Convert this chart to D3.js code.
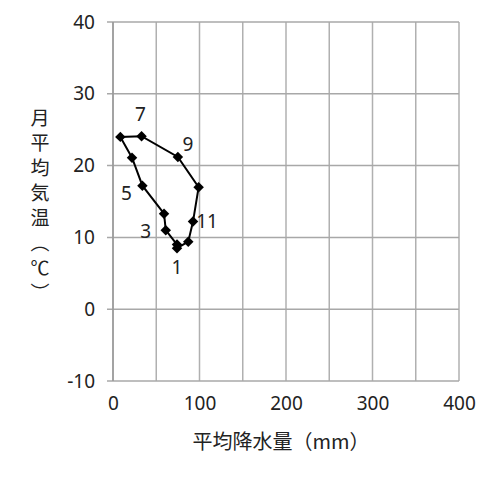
<!DOCTYPE html>
<html>
<head>
<meta charset="utf-8">
<script src="https://cdn.jsdelivr.net/npm/d3@7"></script>
<style>
  body { margin: 0; background: #fff; }
  text { font-family: "Noto Sans CJK JP", "Noto Sans", sans-serif; fill: #222; }
</style>
</head>
<body>
<div id="chart"></div>
<script>
var svgWidth = 500;
var svgHeight = 480;

// monthly data
var months = [1, 2, 3, 4, 5, 6, 7, 8, 9, 10, 11, 12];
var precip = [74, 74, 61, 59, 34, 22, 8.5, 33, 75, 99, 92.5, 87];
var temps = [8.5, 9.0, 11.0, 13.3, 17.2, 21.1, 24.0, 24.1, 21.2, 17.0, 12.2, 9.4];
var labelMonths = [1, 3, 5, 7, 9, 11];

var xTicks = [0, 100, 200, 300, 400];
var yTicks = [-10, 0, 10, 20, 30, 40];
var yTitle = "月平均気温（℃）";
var xTitle = "平均降水量（mm）";

var chartMargin = { top: 22, right: 41, bottom: 99, left: 113 };
var chartWidth = svgWidth - chartMargin.left - chartMargin.right;
var chartHeight = svgHeight - chartMargin.top - chartMargin.bottom;

var svg = d3.select("#chart")
  .append("svg")
  .attr("width", svgWidth)
  .attr("height", svgHeight);

var chartGroup = svg.append("g")
  .attr("transform", `translate(${chartMargin.left}, ${chartMargin.top})`);

var xScale = d3.scaleLinear().domain([0, 400]).range([0, chartWidth]);
var yScale = d3.scaleLinear().domain([-10, 40]).range([chartHeight, 0]);

// vertical grid every 50
chartGroup.append("g")
  .selectAll("line")
  .data(d3.range(0, 401, 50))
  .enter()
  .append("line")
  .attr("x1", d => xScale(d))
  .attr("x2", d => xScale(d))
  .attr("y1", 0)
  .attr("y2", chartHeight)
  .attr("stroke", "#b0b0b0")
  .attr("stroke-width", 1.5);

// horizontal grid, with small tick stub to the left
chartGroup.append("g")
  .selectAll("line")
  .data(yTicks)
  .enter()
  .append("line")
  .attr("x1", -6)
  .attr("x2", chartWidth)
  .attr("y1", d => yScale(d))
  .attr("y2", d => yScale(d))
  .attr("stroke", "#a8a8a8")
  .attr("stroke-width", 1.5);

// left axis line
chartGroup.append("line")
  .attr("x1", 0).attr("x2", 0)
  .attr("y1", 0).attr("y2", chartHeight)
  .attr("stroke", "#999")
  .attr("stroke-width", 1.5);

// tick labels (plain hyphen for -10)
var leftAxis = d3.axisLeft(yScale).tickValues(yTicks).tickSize(0).tickPadding(18)
  .tickFormat(d => String(d));
var yAxisG = chartGroup.append("g").call(leftAxis);
yAxisG.select(".domain").remove();
yAxisG.selectAll("text")
  .attr("font-size", 19)
  .attr("fill", "#222")
  .style("font-family", "'Noto Sans', sans-serif");

var bottomAxis = d3.axisBottom(xScale).tickValues(xTicks).tickSize(0).tickPadding(16);
var xAxisG = chartGroup.append("g")
  .attr("transform", `translate(0, ${chartHeight})`)
  .call(bottomAxis);
xAxisG.select(".domain").remove();
xAxisG.selectAll("text")
  .attr("font-size", 19)
  .attr("fill", "#222")
  .style("font-family", "'Noto Sans', sans-serif");

// data line, closed loop
var pts = months.map((m, i) => ({ month: m, p: precip[i], t: temps[i] }));

var line = d3.line()
  .x(d => xScale(d.p))
  .y(d => yScale(d.t))
  .curve(d3.curveLinearClosed);

chartGroup.append("path")
  .datum(pts)
  .attr("d", line)
  .attr("fill", "none")
  .attr("stroke", "#000")
  .attr("stroke-width", 2);

chartGroup.selectAll(".marker")
  .data(pts)
  .enter()
  .append("path")
  .attr("class", "marker")
  .attr("d", d3.symbol().type(d3.symbolDiamond2).size(70))
  .attr("transform", d => `translate(${xScale(d.p)}, ${yScale(d.t)})`)
  .attr("fill", "#000");

// month labels, placed next to their points
var labelOffset = {
  1: [0, 26],
  3: [-20, 8],
  5: [-16, 14],
  7: [20, -16],
  9: [10, -6],
  11: [14, 6]
};
chartGroup.selectAll(".stateText")
  .data(pts.filter(d => labelMonths.includes(d.month)))
  .enter()
  .append("text")
  .attr("x", d => xScale(d.p) + labelOffset[d.month][0])
  .attr("y", d => yScale(d.t) + labelOffset[d.month][1])
  .attr("text-anchor", "middle")
  .attr("font-size", 19)
  .style("font-family", "'Noto Sans', sans-serif")
  .text(d => d.month);

// axis titles
svg.append("text")
  .attr("x", 281)
  .attr("y", 449)
  .attr("text-anchor", "middle")
  .attr("font-size", 20)
  .text(xTitle);

// vertical y title (vertical writing turns the brackets)
svg.append("text")
  .attr("x", 40)
  .attr("y", 108)
  .style("writing-mode", "vertical-rl")
  .style("text-orientation", "upright")
  .style("letter-spacing", "6px")
  .attr("font-size", 19)
  .text(yTitle);
</script>
</body>
</html>
